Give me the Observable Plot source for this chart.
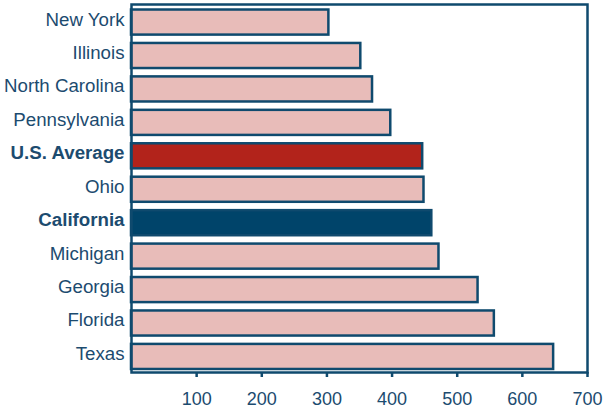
<!DOCTYPE html>
<html>
<head>
<meta charset="utf-8">
<script src="https://cdn.jsdelivr.net/npm/d3@7"></script>
<script src="https://cdn.jsdelivr.net/npm/@observablehq/plot@0.6"></script>
<style>
  html, body { margin: 0; padding: 0; background: #fff; }
  #chart svg { display: block; }
</style>
</head>
<body>
<div id="chart"></div>
<script>
const states = ["New York", "Illinois", "North Carolina", "Pennsylvania", "U.S. Average", "Ohio", "California", "Michigan", "Georgia", "Florida", "Texas"];
const values = [303, 352, 370, 398, 447, 449, 461, 472, 532, 557, 648];
const boldStates = ["U.S. Average", "California"];
const xTicks = [100, 200, 300, 400, 500, 600, 700];
const fills = {"U.S. Average": "#b2231b", "California": "#00446a"};

const data = states.map((s, i) => ({state: s, value: values[i]}));
const navy = "#0f4a6e";
const textColor = "#1c4b6f";

const plot = Plot.plot({
  width: 604,
  height: 408,
  marginLeft: 131,
  marginRight: 17,
  marginTop: 4,
  marginBottom: 36,
  style: {fontFamily: "Liberation Sans, Arial, sans-serif", fontSize: "18px", color: textColor, background: "#fff"},
  x: {domain: [0, 700], axis: null},
  y: {domain: states, range: [4.5, 374], paddingInner: 0.25, paddingOuter: 0.15, round: false, axis: null},
  marks: [
    Plot.barX(data, {
      y: "state",
      x: "value",
      fill: d => fills[d.state] || "#e8bcb9",
      stroke: navy,
      strokeWidth: 2.5
    }),
    Plot.frame({stroke: navy, strokeWidth: 2.5}),
    Plot.axisX({
      ticks: xTicks,
      tickSize: 5,
      tickPadding: 15,
      stroke: navy,
      strokeWidth: 2.5,
      fill: textColor,
      fontSize: 18,
      label: null
    }),
    Plot.axisY({
      ticks: states.filter(s => !boldStates.includes(s)),
      tickSize: 0,
      tickPadding: 7,
      dy: -3,
      fill: textColor,
      fontSize: 18.7,
      label: null
    }),
    Plot.axisY({
      ticks: boldStates,
      tickSize: 0,
      tickPadding: 7,
      dy: -3,
      fill: textColor,
      fontSize: 18.7,
      fontWeight: "bold",
      label: null
    })
  ]
});
document.getElementById("chart").appendChild(plot);
</script>
</body>
</html>
